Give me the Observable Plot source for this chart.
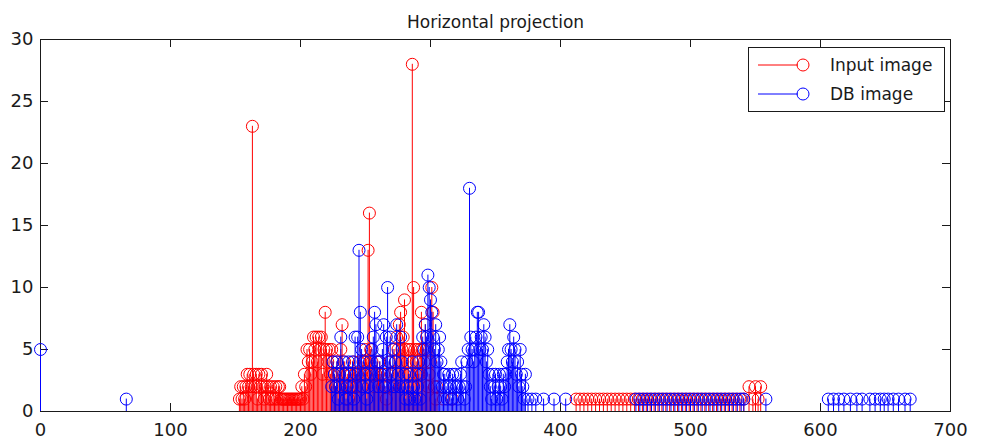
<!DOCTYPE html>
<html><head><meta charset="utf-8">
<script src="https://cdn.jsdelivr.net/npm/d3@7"></script>
<script src="https://cdn.jsdelivr.net/npm/@observablehq/plot@0.6"></script>
<style>
body{margin:0;background:#fff;}
#wrap{position:relative;width:982px;height:442px;font-family:"DejaVu Sans",sans-serif;}
#legend{position:absolute;left:748px;top:47px;}
</style></head><body><div id="wrap"></div>
<script>
const title = "Horizontal projection";
const seriesNames = ["Input image", "DB image"];
const seriesColors = ["#ff0000", "#0000ff"];
const xTicks = [0, 100, 200, 300, 400, 500, 600, 700];
const yTicks = [0, 5, 10, 15, 20, 25, 30];

// Input image (red)
const redX = [153,154,155,156,157,158,159,160,161,162,163,164,165,166,167,168,169,170,171,172,173,174,175,176,177,178,179,180,181,182,183,184,185,186,187,188,189,190,191,192,193,194,195,196,197,198,199,200,201,202,203,204,205,206,207,208,209,210,211,212,213,214,215,216,217,218,219,220,221,222,223,224,225,
226,227,228,229,230,231,232,233,234,235,236,237,238,239,240,241,242,243,244,245,246,247,248,249,250,251,252,253,254,255,256,257,258,259,260,261,262,263,264,265,266,267,268,269,270,271,272,273,274,275,276,277,278,279,280,281,282,283,284,285,286,287,288,289,290,291,292,293,294,295,296,297,298,299,300,301,302,303,304,305,310,317,
412,415,418,421,424,427,430,433,436,439,442,445,448,451,454,457,460,463,466,469,472,475,478,481,484,487,490,493,496,499,502,505,508,511,514,517,520,523,526,529,532,535,538,541,545,548,550,552,554];
const redY = [1,2,1,2,1,2,3,2,3,2,23,3,2,3,1,3,2,3,2,1,2,3,2,1,2,1,2,1,2,1,2,2,1,1,1,1,1,1,1,1,1,1,1,1,1,1,1,1,2,1,3,2,5,4,5,3,4,6,5,6,4,6,5,6,3,5,8,5,4,5,3,5,4,
3,2,4,3,2,5,7,3,4,2,3,1,2,3,2,4,3,2,3,4,3,2,4,3,5,4,13,16,5,4,3,2,3,4,3,4,3,2,3,2,1,3,2,4,3,2,5,4,6,5,7,8,5,6,9,5,4,5,3,5,28,10,5,4,5,3,5,8,5,4,7,5,2,3,4,10,8,2,1,2,1,1,
1,1,1,1,1,1,1,1,1,1,1,1,1,1,1,1,1,1,1,1,1,1,1,1,1,1,1,1,1,1,1,1,1,1,1,1,1,1,1,1,1,1,1,1,2,1,2,1,2];

// DB image (blue)
const blueX = [0,66,
224,225,226,227,228,229,230,231,232,233,234,235,236,237,238,239,240,241,242,243,244,245,246,247,248,249,250,251,252,253,254,255,256,257,258,259,260,261,262,263,264,265,266,267,268,269,270,271,272,273,274,275,276,277,278,279,280,281,282,283,284,285,286,287,288,289,290,291,292,293,294,295,296,297,298,299,300,301,302,303,304,305,306,307,308,309,310,311,312,313,314,315,316,317,318,319,320,321,322,323,324,325,326,327,328,329,330,331,332,333,334,335,336,337,338,339,340,341,342,343,344,345,346,347,348,349,350,351,352,353,354,355,356,357,358,359,360,361,362,363,364,365,366,367,368,369,370,371,372,373,
375,378,381,387,395,404,
458,461,464,467,470,473,476,479,482,485,488,491,494,497,500,503,506,509,512,515,518,521,524,527,530,533,536,539,541,558,
606,610,614,618,623,628,632,638,642,646,649,652,656,660,665,669];
const blueY = [5,1,
2,4,3,2,4,1,3,6,2,4,3,1,2,4,3,2,4,1,6,3,6,13,8,5,2,4,3,1,2,4,3,5,6,8,7,4,2,4,3,5,7,2,6,10,4,6,3,5,2,4,7,3,2,6,4,2,3,1,2,3,1,2,4,2,1,3,2,4,1,3,6,5,7,6,11,10,9,8,6,5,7,4,5,6,4,2,3,3,2,1,3,2,1,3,2,3,2,1,2,3,4,2,1,2,4,5,18,6,5,4,5,6,8,8,5,6,5,7,6,4,5,3,2,1,3,2,3,1,2,3,2,1,3,2,3,4,5,7,5,4,6,5,3,4,2,5,3,2,1,3,
1,1,1,1,1,1,
1,1,1,1,1,1,1,1,1,1,1,1,1,1,1,1,1,1,1,1,1,1,1,1,1,1,1,1,1,1,
1,1,1,1,1,1,1,1,1,1,1,1,1,1,1,1];

const red = redX.map((x, i) => ({x, y: redY[i]}));
const blue = blueX.map((x, i) => ({x, y: blueY[i]}));

const W = 982, H = 442, mL = 40, mR = 32, mT = 39, mB = 31;
const fh = H - mT - mB, fw = W - mL - mR, tk = 8;
const ink = "#1a1a1a";

const chart = Plot.plot({
  width: W, height: H,
  marginLeft: mL, marginRight: mR, marginTop: mT, marginBottom: mB,
  style: {fontFamily: "DejaVu Sans", fontSize: "18px", color: ink, background: "white"},
  x: {domain: [0, 700], label: null},
  y: {domain: [0, 30], label: null},
  marks: [
    Plot.frame({stroke: ink}),
    Plot.tickX(xTicks, {x: d => d, insetTop: fh - tk, stroke: ink}),
    Plot.tickX(xTicks, {x: d => d, insetBottom: fh - tk, stroke: ink}),
    Plot.tickY(yTicks, {y: d => d, insetRight: fw - tk, stroke: ink}),
    Plot.tickY(yTicks, {y: d => d, insetLeft: fw - tk, stroke: ink}),
    Plot.axisX({ticks: xTicks, tickSize: 0, tickPadding: 12, fontSize: 18, tickFormat: d => d, label: null}),
    Plot.axisY({ticks: yTicks, tickSize: 0, tickPadding: 7, fontSize: 18, tickFormat: d => d, label: null}),
    Plot.ruleX(red, {x: "x", y1: 0, y2: "y", stroke: seriesColors[0], strokeWidth: 1}),
    Plot.dot(red, {x: "x", y: "y", r: 6, stroke: seriesColors[0], fill: "none", strokeWidth: 1}),
    Plot.ruleX(blue, {x: "x", y1: 0, y2: "y", stroke: seriesColors[1], strokeWidth: 1}),
    Plot.dot(blue, {x: "x", y: "y", r: 6, stroke: seriesColors[1], fill: "none", strokeWidth: 1}),
    Plot.text([title], {frameAnchor: "top", dy: -24, fontSize: 17, fill: ink})
  ]
});
const wrap = document.getElementById("wrap");
wrap.appendChild(chart);

// legend (inside the axes, top right)
const lg = d3.select(wrap).append("svg").attr("id", "legend")
  .attr("width", 198).attr("height", 66);
lg.append("rect").attr("x", 0.5).attr("y", 0.5).attr("width", 196).attr("height", 64)
  .attr("fill", "white").attr("stroke", ink);
seriesNames.forEach((name, i) => {
  const cy = 18 + i * 29;
  lg.append("line").attr("x1", 10).attr("x2", 50).attr("y1", cy).attr("y2", cy)
    .attr("stroke", seriesColors[i]).attr("stroke-width", 1);
  lg.append("circle").attr("cx", 55).attr("cy", cy).attr("r", 6)
    .attr("fill", "none").attr("stroke", seriesColors[i]);
  lg.append("text").attr("x", 82).attr("y", cy).attr("dy", "0.35em")
    .attr("font-family", "DejaVu Sans").attr("font-size", 17).attr("fill", ink).text(name);
});
</script></body></html>
